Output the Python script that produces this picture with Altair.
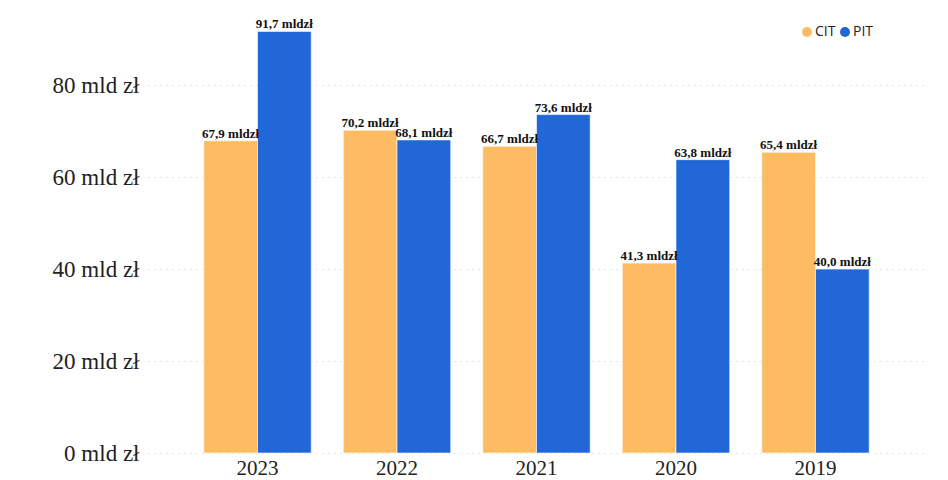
import altair as alt
import pandas as pd

years = ["2023", "2022", "2021", "2020", "2019"]
cit = [67.9, 70.2, 66.7, 41.3, 65.4]
pit = [91.7, 68.1, 73.6, 63.8, 40.0]
taxes = ["CIT", "PIT"]
colors = ["#FDBB63", "#2167D8"]

rows = []
for i, y in enumerate(years):
    for tax, vals in (("CIT", cit), ("PIT", pit)):
        v = vals[i]
        rows.append({"year": y, "tax": tax, "value": v,
                     "label": f"{v:.1f}".replace(".", ",") + " mldzł"})
df = pd.DataFrame(rows)

serif = "Liberation Serif"

base = alt.Chart(df).encode(
    x=alt.X("year:N", sort=years, title=None,
            scale=alt.Scale(paddingInner=0.23, paddingOuter=0.4),
            axis=alt.Axis(labelAngle=0, labelFont=serif, labelFontSize=21,
                          labelColor="#222222", ticks=False, domain=False,
                          labelPadding=4)),
    xOffset=alt.XOffset("tax:N", sort=taxes),
    y=alt.Y("value:Q", title=None,
            scale=alt.Scale(domain=[0, 92], nice=False),
            axis=alt.Axis(values=[0, 20, 40, 60, 80],
                          labelExpr="datum.value + ' mld zł'",
                          labelFont=serif, labelFontSize=23, labelColor="#222222",
                          ticks=False, domain=False, labelPadding=9,
                          grid=True, gridDash=[1, 5], gridColor="#cccccc")),
)

bars = base.mark_bar(stroke="white", strokeOpacity=0.6, strokeWidth=1).encode(
    color=alt.Color("tax:N", sort=taxes,
                    scale=alt.Scale(domain=taxes, range=colors),
                    legend=alt.Legend(title=None, orient="none", direction="horizontal",
                                      legendX=652, legendY=-5, symbolType="circle",
                                      symbolSize=100, symbolStrokeWidth=0,
                                      labelFont="Open Sans", labelFontSize=14,
                                      labelColor="#222222", columnPadding=2,
                                      labelOffset=1)),
)

labels = base.mark_text(dy=-7, font=serif, fontSize=13, fontWeight="bold",
                        color="#111111").encode(text="label:N")

chart = (
    (bars + labels)
    .properties(width=777, height=423,
                autosize=alt.AutoSizeParams(type="none"),
                padding={"left": 140, "top": 22, "right": 15, "bottom": 30})
    .configure_view(stroke=None)
)

chart.save("out.html", embed_options={"renderer": "svg", "actions": False})
